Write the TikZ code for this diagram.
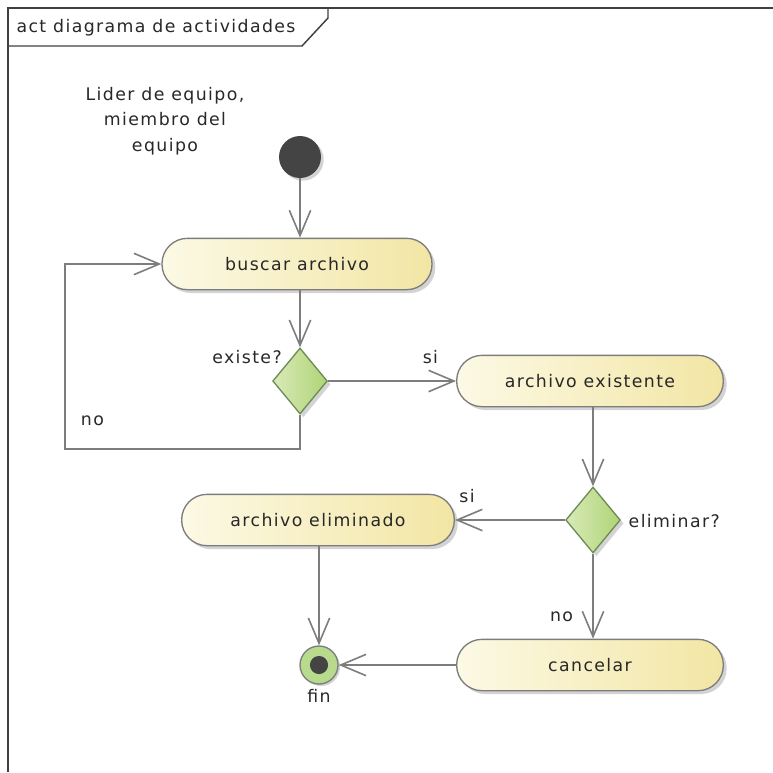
\documentclass[tikz,border=0pt]{standalone}
\usepackage{fontspec}
\setmainfont[LetterSpace=8]{DejaVu Sans}
\usepackage{tikz}
\usetikzlibrary{shapes.geometric, positioning, arrows.meta, shadows}
\definecolor{actleft}{RGB}{252, 249, 229}
\definecolor{actright}{RGB}{242, 230, 164}
\definecolor{decleft}{RGB}{216, 234, 184}
\definecolor{decright}{RGB}{176, 212, 118}
\definecolor{decborder}{RGB}{110, 140, 85}
\definecolor{linegray}{RGB}{125, 125, 125}
\definecolor{framegray}{RGB}{64, 64, 64}
\definecolor{startgray}{RGB}{68, 68, 68}
\definecolor{fingreen}{RGB}{184, 218, 140}
\definecolor{textgray}{RGB}{40, 40, 40}

\begin{document}
\begin{tikzpicture}[x=0.75pt, y=-0.75pt, >={Straight Barb[length=19pt, width=16pt]},
        every node/.style={font=\fontsize{13}{19}\selectfont, text=textgray},
        activity/.style={draw=linegray, line width=1pt, rectangle, rounded corners=19pt,
            left color=actleft, right color=actright, minimum height=38.5pt,
            drop shadow={opacity=0.35, shadow xshift=2.5pt, shadow yshift=-2.5pt}},
        decision/.style={draw=decborder, line width=1pt, diamond, inner sep=0pt,
            minimum width=41pt, minimum height=49.5pt, left color=decleft, right color=decright,
            drop shadow={opacity=0.35, shadow xshift=2.5pt, shadow yshift=-2.5pt}},
        flow/.style={->, draw=linegray, line width=1.2pt}]
    \useasboundingbox (0,0) rectangle (773,772);
    % marco y pestana
    \draw[framegray, line width=1.1pt] (773,8) -- (8,8) -- (8,772);
    \draw[framegray, line width=1.1pt] (8,46) -- (302,46) -- (328,18) -- (328,8);
    \node (titulo) at (156,28) {act diagrama de actividades};

    \node[align=center] (roles) at (165,121) {Lider de equipo,\\miembro del\\equipo};
    \node[circle, fill=startgray, minimum size=31.5pt, inner sep=0pt,
        drop shadow={opacity=0.35, shadow xshift=2pt, shadow yshift=-2pt}] (inicio) at (300,157) {};

    \node[activity, minimum width=202.5pt] (buscar) at (297,264) {buscar archivo};
    \node[decision] (existe) at (300,381) {};
    \node (existelbl) at (247,357) {existe?};
    \node[activity, minimum width=200pt] (existente) at (590,381) {archivo existente};
    \node[decision] (eliminar) at (593,520) {};
    \node[anchor=west] (eliminarlbl) at (624,521) {eliminar?};
    \node[activity, minimum width=204.5pt] (eliminado) at (318,520) {archivo eliminado};
    \node[activity, minimum width=200pt] (cancelar) at (590,665) {cancelar};
    \node[circle, draw=linegray, line width=1pt, fill=fingreen, minimum size=28.5pt, inner sep=0pt,
        drop shadow={opacity=0.35, shadow xshift=1.5pt, shadow yshift=-1.5pt},
        path picture={\fill[startgray] (path picture bounding box.center) circle (6.8pt);},
        label={[inner sep=3pt]below:fin}] (fin) at (319,665) {};

    \coordinate (loop) at (65,449);

    \draw[flow] (inicio) -- (inicio |- buscar.north);
    \draw[flow] (existe |- buscar.south) -- (existe.north);
    \draw[flow] (existe.east) -- node[pos=0.8, yshift=18pt] {si} (existente.west);
    \draw[flow] (existe.south) |- (loop) |- node[pos=0.076, right=8pt] {no} (buscar.west);
    \draw[flow] (eliminar |- existente.south) -- (eliminar.north);
    \draw[flow] (eliminar.west) -- node[pos=0.89, yshift=18pt] {si} (eliminado.east);
    \draw[flow] (eliminar.south) -- node[pos=0.74, left=11pt] {no} (eliminar |- cancelar.north);
    \draw[flow] (cancelar.west) -- (fin);
    \draw[flow] (eliminado.south -| fin) -- (fin.north);
\end{tikzpicture}
\end{document}
